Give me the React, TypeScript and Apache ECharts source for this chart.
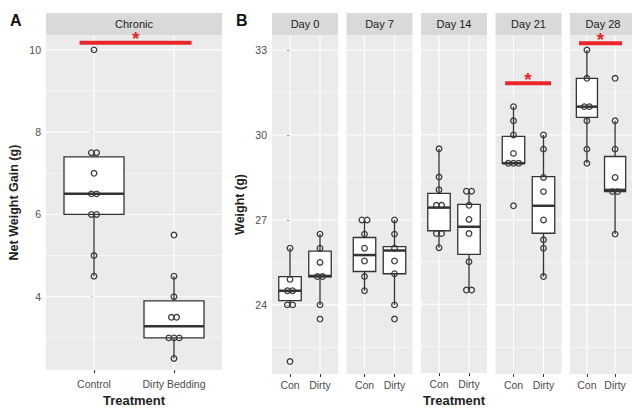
import React, { useEffect, useRef } from "react";
import * as echarts from "echarts";

// ---------- Data ----------
const chronicCategories = ["Control", "Dirty Bedding"];
// [lower whisker, Q1, median, Q3, upper whisker]
const chronicBoxStats = [
  [4.5, 6.0, 6.5, 7.4, 7.5],
  [2.5, 3.0, 3.28, 3.9, 4.5],
];
const chronicPoints = [
  [10.0, 7.5, 7.5, 7.0, 6.5, 6.5, 6.0, 6.0, 5.0, 4.5],
  [5.5, 4.5, 4.0, 3.5, 3.5, 3.0, 3.0, 3.0, 2.5],
];
const chronicTicks = [4, 6, 8, 10];
const chronicMinorTicks = [3, 5, 7, 9];
const chronicRange = [2.217, 10.361];
const chronicSignificance = 10.17;

const dayLabels = ["Day 0", "Day 7", "Day 14", "Day 21", "Day 28"];
const dayCategories = ["Con", "Dirty"];
const conBoxStats = [
  [24.0, 24.15, 24.5, 25.0, 26.0],
  [24.5, 25.18, 25.76, 26.38, 27.0],
  [26.0, 26.6, 27.42, 27.92, 29.5],
  [29.0, 29.0, 29.0, 29.95, 31.0],
  [29.0, 30.62, 31.0, 32.0, 33.0],
];
const dirtyBoxStats = [
  [24.0, 24.99, 25.02, 25.9, 26.5],
  [24.0, 25.1, 25.92, 26.06, 27.0],
  [24.5, 25.76, 26.74, 27.53, 28.0],
  [25.0, 26.53, 27.5, 28.53, 30.0],
  [26.5, 28.0, 28.06, 29.24, 30.5],
];
const conPoints = [
  [26.0, 24.9, 24.5, 24.5, 24.0, 24.0, 22.0],
  [27.0, 27.0, 26.5, 26.0, 25.55, 25.0, 24.5],
  [29.5, 28.5, 28.05, 27.5, 27.5, 26.5, 26.5, 26.0],
  [31.0, 30.5, 30.0, 29.35, 29.0, 29.0, 29.0, 27.5],
  [33.0, 32.0, 31.0, 31.0, 30.5, 29.5, 29.0],
];
const dirtyPoints = [
  [26.5, 26.0, 25.5, 25.0, 25.0, 24.0, 23.5],
  [27.0, 26.5, 26.0, 25.55, 25.1, 24.0, 23.5],
  [28.0, 28.0, 27.5, 27.0, 26.5, 25.5, 24.5, 24.5],
  [30.0, 29.5, 28.5, 28.0, 27.0, 26.3, 26.0, 25.0],
  [32.0, 30.5, 29.5, 28.5, 28.0, 28.0, 26.5],
];
const weightTicks = [24, 27, 30, 33];
const weightMinorTicks = [22.5, 25.5, 28.5, 31.5];
const weightRange = [21.56, 33.53];
const daySignificance = [null, null, null, 31.83, 33.24];

// ---------- Layout ----------
const FONT = "'Liberation Sans', Arial, Helvetica, sans-serif";
const TOP = 35;
const HEIGHT = 339;
const A_LEFT = 46;
const A_WIDTH = 176;
const B_LEFT = 272;
const B_WIDTH = 66;
const B_STEP = 74.5;
const PANEL_BG = "#EBEBEB";
const STRIP_BG = "#D9D9D9";
const BOX_COLOR = "#333333";
const POINT_COLOR = "#383838";
const RED = "#E8262B";

function dodge(values: number[], xIndex: number) {
  const out: number[][] = [];
  const counts: Record<string, number> = {};
  values.forEach((v) => {
    counts[v] = (counts[v] || 0) + 1;
  });
  const seen: Record<string, number> = {};
  values.forEach((v) => {
    const k = seen[v] || 0;
    seen[v] = k + 1;
    out.push([xIndex, v, k - (counts[v] - 1) / 2]);
  });
  return out;
}

function gridLineSeries(idx: number, major: number[], minor: number[], mid: number) {
  return {
    type: "custom",
    xAxisIndex: idx,
    yAxisIndex: idx,
    silent: true,
    z: 1,
    data: [[0.5, mid]],
    renderItem: (params: any, api: any) => {
      const cs = params.coordSys;
      const children: any[] = [];
      minor.forEach((v) => {
        const y = api.coord([0, v])[1];
        children.push({
          type: "line",
          shape: { x1: cs.x, y1: y, x2: cs.x + cs.width, y2: y },
          style: { stroke: "#ffffff", lineWidth: 0.55 },
        });
      });
      major.forEach((v) => {
        const y = api.coord([0, v])[1];
        children.push({
          type: "line",
          shape: { x1: cs.x, y1: y, x2: cs.x + cs.width, y2: y },
          style: { stroke: "#ffffff", lineWidth: 1.1 },
        });
      });
      [0, 1].forEach((xv) => {
        const x = api.coord([xv, mid])[0];
        children.push({
          type: "line",
          shape: { x1: x, y1: cs.y, x2: x, y2: cs.y + cs.height },
          style: { stroke: "#ffffff", lineWidth: 1.1 },
        });
      });
      return { type: "group", children };
    },
  };
}

function boxSeries(idx: number, stats: number[][]) {
  return {
    type: "custom",
    xAxisIndex: idx,
    yAxisIndex: idx,
    z: 3,
    data: stats.map((s, k) => [k, ...s]),
    encode: { x: 0, y: [1, 2, 3, 4, 5] },
    renderItem: (params: any, api: any) => {
      const x = api.value(0);
      const lo = api.coord([x, api.value(1)]);
      const q1 = api.coord([x, api.value(2)]);
      const med = api.coord([x, api.value(3)]);
      const q3 = api.coord([x, api.value(4)]);
      const hi = api.coord([x, api.value(5)]);
      const cx = lo[0];
      const hw = api.size([0.75, 0])[0] / 2;
      return {
        type: "group",
        children: [
          {
            type: "line",
            shape: { x1: cx, y1: hi[1], x2: cx, y2: q3[1] },
            style: { stroke: BOX_COLOR, lineWidth: 1.3 },
          },
          {
            type: "line",
            shape: { x1: cx, y1: q1[1], x2: cx, y2: lo[1] },
            style: { stroke: BOX_COLOR, lineWidth: 1.3 },
          },
          {
            type: "rect",
            shape: { x: cx - hw, y: q3[1], width: 2 * hw, height: q1[1] - q3[1] },
            style: { fill: "#ffffff", stroke: BOX_COLOR, lineWidth: 1.3 },
          },
          {
            type: "line",
            shape: { x1: cx - hw, y1: med[1], x2: cx + hw, y2: med[1] },
            style: { stroke: BOX_COLOR, lineWidth: 2.5 },
          },
        ],
      };
    },
  };
}

function pointSeries(idx: number, groups: number[][]) {
  const data: number[][] = [];
  groups.forEach((vals, k) => dodge(vals, k).forEach((d) => data.push(d)));
  return {
    type: "custom",
    xAxisIndex: idx,
    yAxisIndex: idx,
    z: 4,
    data,
    encode: { x: 0, y: 1 },
    renderItem: (params: any, api: any) => {
      const p = api.coord([api.value(0), api.value(1)]);
      return {
        type: "circle",
        shape: { cx: p[0] + api.value(2) * 5.2, cy: p[1], r: 2.8 },
        style: { fill: "none", stroke: POINT_COLOR, lineWidth: 1.25 },
      };
    },
  };
}

function signifSeries(idx: number, yv: number, from: number, to: number) {
  return {
    type: "custom",
    xAxisIndex: idx,
    yAxisIndex: idx,
    z: 6,
    clip: false,
    data: [[from, to, yv]],
    encode: { x: [0, 1], y: 2 },
    renderItem: (params: any, api: any) => {
      const a = api.coord([api.value(0), api.value(2)]);
      const b = api.coord([api.value(1), api.value(2)]);
      return {
        type: "group",
        children: [
          {
            type: "line",
            shape: { x1: a[0], y1: a[1], x2: b[0], y2: b[1] },
            style: { stroke: RED, lineWidth: 4 },
          },
          {
            type: "text",
            x: (a[0] + b[0]) / 2,
            y: a[1] - 4,
            style: {
              text: "*",
              fill: RED,
              font: `bold 19px ${FONT}`,
              align: "center",
              verticalAlign: "middle",
            },
          },
        ],
      };
    },
  };
}

function xAxisFor(idx: number, cats: string[], margin: number, extra: any = {}) {
  return {
    gridIndex: idx,
    type: "value",
    min: -0.6,
    max: 1.6,
    axisLine: { show: false },
    splitLine: { show: false },
    axisTick: {
      show: true,
      customValues: [0, 1],
      length: 3,
      lineStyle: { color: "#333333", width: 1 },
    },
    axisLabel: {
      customValues: [0, 1],
      formatter: (v: number) => cats[Math.round(v)] ?? "",
      color: "#4d4d4d",
      fontSize: 10.5,
      fontFamily: FONT,
      margin,
    },
    ...extra,
  };
}

function yAxisFor(idx: number, range: number[], ticks: number[], showLabels: boolean, extra: any = {}) {
  return {
    gridIndex: idx,
    type: "value",
    min: range[0],
    max: range[1],
    axisLine: { show: false },
    splitLine: { show: false },
    axisTick: {
      show: showLabels,
      customValues: ticks,
      length: 3,
      lineStyle: { color: "#333333", width: 1 },
    },
    axisLabel: {
      show: showLabels,
      customValues: ticks,
      color: "#4d4d4d",
      fontSize: 10.5,
      fontFamily: FONT,
      margin: 5,
    },
    ...extra,
  };
}

export default function App() {
  const ref = useRef<HTMLDivElement>(null);

  useEffect(() => {
    document.body.style.margin = "0";
    if (!ref.current) return;
    const chart = echarts.init(ref.current, undefined, { renderer: "svg" });

    const grids: any[] = [];
    const xAxes: any[] = [];
    const yAxes: any[] = [];
    const series: any[] = [];
    const graphics: any[] = [];

    // Panel A
    grids.push({
      left: A_LEFT,
      top: TOP,
      width: A_WIDTH,
      height: HEIGHT - 1,
      show: true,
      backgroundColor: PANEL_BG,
      borderWidth: 0,
    });
    xAxes.push(
      xAxisFor(0, chronicCategories, 8, {
        name: "Treatment",
        nameLocation: "middle",
        nameGap: 22,
        nameTextStyle: { fontSize: 13, fontWeight: "bold", color: "#222", fontFamily: FONT },
      })
    );
    yAxes.push(
      yAxisFor(0, chronicRange, chronicTicks, true, {
        name: "Net Weight Gain (g)",
        nameLocation: "middle",
        nameGap: 26,
        nameTextStyle: { fontSize: 12.5, fontWeight: "bold", color: "#222", fontFamily: FONT },
      })
    );
    series.push(gridLineSeries(0, chronicTicks, chronicMinorTicks, 6));
    series.push(boxSeries(0, chronicBoxStats));
    series.push(pointSeries(0, chronicPoints));
    series.push(signifSeries(0, chronicSignificance, -0.18, 1.22));

    graphics.push({
      type: "rect",
      z: 0,
      shape: { x: A_LEFT, y: 13, width: A_WIDTH, height: 22 },
      style: { fill: STRIP_BG },
    });
    graphics.push({
      type: "text",
      z: 1,
      x: A_LEFT + A_WIDTH / 2,
      y: 24,
      style: {
        text: "Chronic",
        fill: "#1a1a1a",
        font: `11px ${FONT}`,
        align: "center",
        verticalAlign: "middle",
      },
    });

    // Panel B
    dayLabels.forEach((day, d) => {
      const idx = d + 1;
      const left = B_LEFT + d * B_STEP;
      grids.push({
        left,
        top: TOP,
        width: B_WIDTH,
        height: HEIGHT,
        show: true,
        backgroundColor: PANEL_BG,
        borderWidth: 0,
      });
      xAxes.push(
        xAxisFor(
          idx,
          dayCategories,
          5,
          d === 2
            ? {
                name: "Treatment",
                nameLocation: "middle",
                nameGap: 20,
                nameTextStyle: { fontSize: 13, fontWeight: "bold", color: "#222", fontFamily: FONT },
              }
            : {}
        )
      );
      yAxes.push(
        yAxisFor(
          idx,
          weightRange,
          weightTicks,
          d === 0,
          d === 0
            ? {
                name: "Weight (g)",
                nameLocation: "middle",
                nameGap: 26,
                nameTextStyle: { fontSize: 12.5, fontWeight: "bold", color: "#222", fontFamily: FONT },
              }
            : {}
        )
      );
      series.push(gridLineSeries(idx, weightTicks, weightMinorTicks, 27));
      series.push(boxSeries(idx, [conBoxStats[d], dirtyBoxStats[d]]));
      series.push(pointSeries(idx, [conPoints[d], dirtyPoints[d]]));
      const sig = daySignificance[d];
      if (sig !== null) series.push(signifSeries(idx, sig as number, -0.28, 1.25));

      graphics.push({
        type: "rect",
        z: 0,
        shape: { x: left, y: 13, width: B_WIDTH, height: 22 },
        style: { fill: STRIP_BG },
      });
      graphics.push({
        type: "text",
        z: 1,
        x: left + B_WIDTH / 2,
        y: 24,
        style: {
          text: day,
          fill: "#1a1a1a",
          font: `11px ${FONT}`,
          align: "center",
          verticalAlign: "middle",
        },
      });
    });

    graphics.push({
      type: "text",
      x: 10,
      y: 20,
      style: { text: "A", fill: "#111", font: `bold 16px ${FONT}`, align: "left", verticalAlign: "middle" },
    });
    graphics.push({
      type: "text",
      x: 236,
      y: 20,
      style: { text: "B", fill: "#111", font: `bold 16px ${FONT}`, align: "left", verticalAlign: "middle" },
    });

    chart.setOption({
      animation: false,
      backgroundColor: "#ffffff",
      grid: grids,
      xAxis: xAxes,
      yAxis: yAxes,
      series,
      graphic: { elements: graphics },
    });

    return () => chart.dispose();
  }, []);

  return <div ref={ref} style={{ width: 632, height: 412 }} />;
}
